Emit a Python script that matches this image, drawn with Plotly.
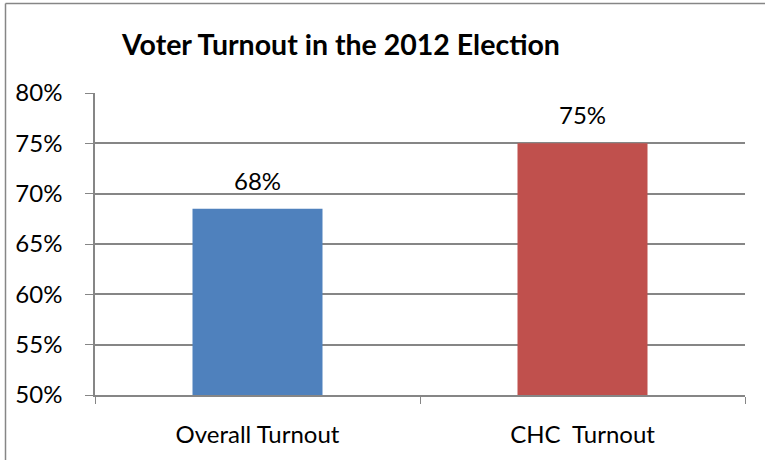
import plotly.graph_objects as go

categories = ["Overall Turnout", "CHC  Turnout"]
values = [0.685, 0.75]
labels = ["68%", "75%"]
colors = ["#4F81BD", "#C0504D"]
title = "Voter Turnout in the 2012 Election"
yticks = [0.50, 0.55, 0.60, 0.65, 0.70, 0.75, 0.80]

FONT = "Lato, Carlito, Calibri, sans-serif"

fig = go.Figure(go.Bar(
    x=categories, y=values,
    marker=dict(color=colors, line=dict(width=0)),
    width=0.4,
))

for c, v, t in zip(categories, values, labels):
    fig.add_annotation(x=c, y=v, text=t, showarrow=False, yanchor="bottom",
                       yshift=12, font=dict(size=24, family=FONT, color="#000000"))

px_x = lambda p: (p - 95) / 650
px_y = lambda p: (395 - p) / 302

fig.update_layout(
    width=765, height=460,
    margin=dict(l=95, r=20, t=93, b=65),
    paper_bgcolor="white", plot_bgcolor="white",
    showlegend=False,
    font=dict(family=FONT, color="#000000", size=24),
    title=dict(text="<b>" + title + "</b>", x=341 / 765, xanchor="center",
               y=1 - 45 / 460, yanchor="middle",
               font=dict(size=28.5, family=FONT, color="#000000")),
    xaxis=dict(showline=True, linecolor="#868686", linewidth=1.5,
               ticks="outside", ticklen=7, tickcolor="#868686",
               tickson="boundaries", showgrid=False, ticklabelstandoff=17,
               tickfont=dict(size=24, family=FONT, color="#000000")),
    yaxis=dict(range=[0.5, 0.8], tickvals=yticks, tickformat=".0%",
               showline=True, linecolor="#868686", linewidth=1.5,
               ticks="outside", ticklen=8, tickcolor="#868686",
               showgrid=True, gridcolor="#868686", gridwidth=1.5,
               zeroline=False, ticklabelstandoff=18,
               tickfont=dict(size=24, family=FONT, color="#000000")),
    bargap=0.6,
    shapes=[
        dict(type="line", xref="paper", yref="paper",
             x0=px_x(5.5), x1=px_x(765), y0=px_y(3.5), y1=px_y(3.5),
             line=dict(color="#868686", width=1.5), layer="below"),
        dict(type="line", xref="paper", yref="paper",
             x0=px_x(5.5), x1=px_x(5.5), y0=px_y(3.5), y1=px_y(460),
             line=dict(color="#868686", width=1.5), layer="below"),
    ],
)

fig.write_html("out.html")
